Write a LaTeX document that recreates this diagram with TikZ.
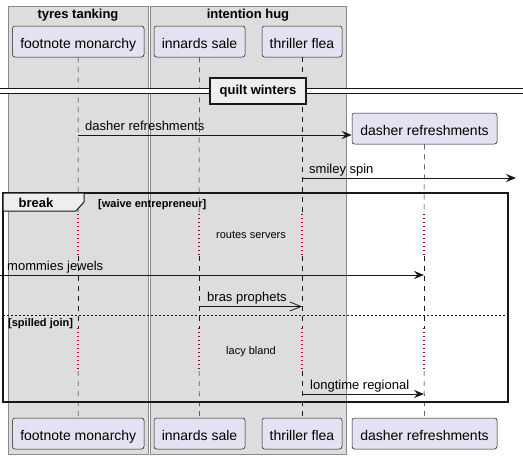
\documentclass[tikz,border=0pt]{standalone}
\usepackage{fontspec}
\setmainfont{Liberation Sans}
\usetikzlibrary{arrows.meta}
\definecolor{partfill}{HTML}{E2E2F0}
\definecolor{ink}{HTML}{181818}
\definecolor{boxfill}{HTML}{DDDDDD}
\definecolor{boxline}{HTML}{8A8A8A}
\definecolor{tabfill}{HTML}{EEEEEE}
\definecolor{delayred}{HTML}{A80036}
\newcommand{\fsz}[1]{\fontsize{#1}{#1}\selectfont}
\newcommand{\ptxt}[1]{\raisebox{-6.8pt}[0pt][0pt]{#1}}
\tikzset{
  part/.style={draw=ink, line width=0.5pt, fill=partfill, rounded corners=2.5pt, minimum height=31pt, inner sep=0pt, font=\fsz{14}},
  grpbox/.style={draw=boxline, line width=0.8pt, fill=boxfill},
  lifeline/.style={draw=ink, line width=0.5pt, dash pattern=on 5pt off 5pt},
  delayline/.style={draw=delayred, line width=1.3pt, dash pattern=on 1.3pt off 2.7pt},
  msg/.style={draw=ink, line width=1pt, -{Stealth[length=10pt,width=8pt,inset=3.5pt]}},
  openmsg/.style={draw=ink, line width=0.8pt, -{Straight Barb[length=11pt,width=9pt]}},
  msglabel/.style={anchor=base west, inner sep=0pt, font=\fsz{13}},
  smalllabel/.style={inner sep=0pt, font=\fsz{11}},
  grplabel/.style={anchor=west, inner sep=0pt, font=\fsz{11}\bfseries},
  title/.style={anchor=base, inner sep=0pt, font=\fsz{13}\bfseries}
}
\begin{document}
\begin{tikzpicture}[x=1pt,y=-1pt]
\useasboundingbox (0,0) rectangle (523,459);
\fill[white] (0,0) rectangle (523,459);
% group boxes
\draw[grpbox] (8,6) rectangle (148,454);
\draw[grpbox] (150,6) rectangle (346,454);
\node[title] (tt) at (78,18.5) {tyres tanking};
\node[title] (ih) at (248,18.5) {intention hug};
% participants top
\node[part, minimum width=131.5pt] (fmT) at (78.25,41.5) {\ptxt{footnote monarchy}};
\node[part, minimum width=91pt] (isT) at (199.5,41.5) {\ptxt{innards sale}};
\node[part, minimum width=80pt] (tfT) at (302,41.5) {\ptxt{thriller flea}};
\node[part, minimum width=145pt] (drT) at (424.5,128.5) {\ptxt{dasher refreshments}};
% participants bottom
\node[part, minimum width=131.5pt] (fmB) at (78.25,433.5) {\ptxt{footnote monarchy}};
\node[part, minimum width=91pt] (isB) at (199.5,433.5) {\ptxt{innards sale}};
\node[part, minimum width=80pt] (tfB) at (302,433.5) {\ptxt{thriller flea}};
\node[part, minimum width=145pt] (drB) at (424.5,433.5) {\ptxt{dasher refreshments}};
% lifelines
\foreach \n/\x in {fm/78,is/199,tf/302,dr/424}{
  \coordinate (\n a) at (\x,214);
  \coordinate (\n b) at (\x,256);
  \coordinate (\n c) at (\x,328);
  \coordinate (\n d) at (\x,371);
  \draw[lifeline] (\n T.south) -- (\n a);
  \draw[delayline] (\n a) -- (\n b);
  \draw[lifeline] (\n b) -- (\n c);
  \draw[delayline] (\n c) -- (\n d);
  \draw[lifeline] (\n d) -- (\n B.north);
}
% divider
\coordinate (dvL) at (0,88.5);
\coordinate (dvR) at (523,93.5);
\fill[white] (dvL) rectangle (dvR);
\draw[ink, line width=1pt] (0,88.5) -- (523,88.5) (0,93.5) -- (523,93.5);
\node[draw=ink, line width=2pt, fill=tabfill, minimum width=96pt, minimum height=26pt, inner sep=0pt, font=\fsz{13}\bfseries] (div) at (258,91) {quilt winters};
% message 1
\coordinate (m1s) at (78,135);
\draw[msg] (m1s) -- (drT.west |- m1s);
\node[msglabel] (m1l) at (85,130.5) {dasher refreshments};
% message 2
\coordinate (m2s) at (302,178);
\coordinate (m2e) at (516,178);
\draw[msg] (m2s) -- (m2e);
\node[msglabel] (m2l) at (309,173.5) {smiley spin};
% break frame
\draw[ink, line width=1.5pt] (3,193) rectangle (508,402);
\draw[ink, line width=1pt, fill=tabfill] (3,193) -- (84,193) -- (84,202) -- (76,211) -- (3,211) -- cycle;
\node[title] (brk) at (36,207.5) {break};
\node[grplabel] (g1) at (98,204.5) {[waive entrepreneur]};
\node[smalllabel] (d1) at (251,234.5) {routes servers};
% message 3
\coordinate (m3s) at (0,275);
\coordinate (m3e) at (424,275);
\draw[msg] (m3s) -- (m3e);
\node[msglabel] (m3l) at (7,270.5) {mommies jewels};
% message 4
\coordinate (m4s) at (199,306.5);
\coordinate (m4e) at (302,306.5);
\draw[openmsg] (m4s) -- (m4e);
\node[msglabel] (m4l) at (207,301.5) {bras prophets};
% separator
\draw[ink, line width=0.8pt, dash pattern=on 2pt off 2pt] (3,315) -- (508,315);
\node[grplabel] (g2) at (8,323.3) {[spilled join]};
\node[smalllabel] (d2) at (251,351.3) {lacy bland};
% message 5
\coordinate (m5s) at (302,394);
\coordinate (m5e) at (424,394);
\draw[msg] (m5s) -- (m5e);
\node[msglabel] (m5l) at (310,389.5) {longtime regional};
\end{tikzpicture}
\end{document}
